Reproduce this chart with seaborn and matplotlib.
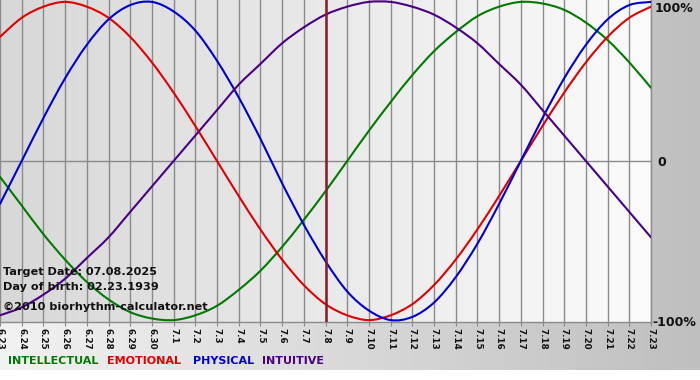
import numpy as np
import pandas as pd
import matplotlib
matplotlib.use("Agg")
import matplotlib.pyplot as plt
import seaborn as sns
from matplotlib.colors import LinearSegmentedColormap
from matplotlib.path import Path
from matplotlib.patches import PathPatch

# ---- data ----
dates = ["6.23", "6.24", "6.25", "6.26", "6.27", "6.28", "6.29", "6.30",
         "7.1", "7.2", "7.3", "7.4", "7.5", "7.6", "7.7", "7.8", "7.9", "7.10",
         "7.11", "7.12", "7.13", "7.14", "7.15", "7.16", "7.17", "7.18", "7.19",
         "7.20", "7.21", "7.22", "7.23"]
physical = [-0.27, 0.00, 0.27, 0.52, 0.73, 0.89, 0.98, 1.00, 0.94, 0.82, 0.63,
            0.40, 0.14, -0.14, -0.40, -0.63, -0.82, -0.94, -1.00, -0.98, -0.89,
            -0.73, -0.52, -0.27, 0.00, 0.27, 0.52, 0.73, 0.89, 0.98, 1.00]
emotional = [0.78, 0.90, 0.97, 1.00, 0.97, 0.90, 0.78, 0.62, 0.43, 0.22, 0.00,
             -0.22, -0.43, -0.62, -0.78, -0.90, -0.97, -1.00, -0.97, -0.90, -0.78,
             -0.62, -0.43, -0.22, 0.00, 0.22, 0.43, 0.62, 0.78, 0.90, 0.97]
intellectual = [-0.10, -0.28, -0.46, -0.62, -0.76, -0.87, -0.95, -0.99, -1.00,
                -0.97, -0.91, -0.81, -0.69, -0.54, -0.37, -0.19, 0.00, 0.19, 0.37,
                0.54, 0.69, 0.81, 0.91, 0.97, 1.00, 0.99, 0.95, 0.87, 0.76, 0.62, 0.46]
intuitive = [-0.97, -0.92, -0.84, -0.74, -0.61, -0.48, -0.32, -0.16, 0.00, 0.16,
             0.32, 0.48, 0.61, 0.74, 0.84, 0.92, 0.97, 1.00, 1.00, 0.97, 0.92,
             0.84, 0.74, 0.61, 0.48, 0.32, 0.16, 0.00, -0.16, -0.32, -0.48]
series_names = ["INTELLECTUAL", "EMOTIONAL", "PHYSICAL", "INTUITIVE"]
series_colors = ["#007a00", "#e00000", "#0000d0", "#4b0082"]
target_label = "7.8"

day_idx = list(range(len(dates)))
df = pd.concat([
    pd.DataFrame({"day": day_idx, "value": intellectual, "cycle": "INTELLECTUAL"}),
    pd.DataFrame({"day": day_idx, "value": emotional, "cycle": "EMOTIONAL"}),
    pd.DataFrame({"day": day_idx, "value": physical, "cycle": "PHYSICAL"}),
    pd.DataFrame({"day": day_idx, "value": intuitive, "cycle": "INTUITIVE"}),
])

W, H = 700, 380
fig = plt.figure(figsize=(W / 100, H / 100), dpi=100)

# figure background gradient
bg = fig.add_axes([0, 0, 1, 1], zorder=-10)
bg.set_axis_off()
cmap_bg = LinearSegmentedColormap.from_list("bg", ["#f2f2f2", "#bfbfbf"])
bg.imshow(np.linspace(0, 1, 256)[None, :], cmap=cmap_bg, aspect="auto",
          extent=[0, 1, 0, 1])
bg.axhspan(0, 10 / H, color="white", lw=0)
bg.set_xlim(0, 1)
bg.set_ylim(0, 1)

plot_w = 651
plot_h = 322
ax = fig.add_axes([0, 1 - plot_h / H, plot_w / W, plot_h / H])

# plot area gradient
cmap_pa = LinearSegmentedColormap.from_list("pa", ["#d8d8d8", "#fbfbfb"])
ax.imshow(np.linspace(0, 1, 256)[None, :], cmap=cmap_pa, aspect="auto",
          extent=[0, len(dates) - 1, -1.012, 1.012], zorder=0)

sns.lineplot(data=df, x="day", y="value", hue="cycle",
             palette=dict(zip(series_names, series_colors)),
             hue_order=series_names, linewidth=1.5, legend=False, ax=ax,
             zorder=3)

# render seaborn's lines as smooth (Catmull-Rom) curves through the same points
for line in list(ax.lines):
    P = np.asarray(line.get_xydata(), dtype=float)
    if len(P) < 3:
        continue
    verts = [tuple(P[0])]
    codes = [Path.MOVETO]
    n = len(P)
    for i in range(n - 1):
        p0 = P[i - 1] if i > 0 else P[i]
        p1 = P[i]
        p2 = P[i + 1]
        p3 = P[i + 2] if i + 2 < n else P[i + 1]
        c1 = p1 + (p2 - p0) / 6.0
        c2 = p2 - (p3 - p1) / 6.0
        verts += [tuple(c1), tuple(c2), tuple(p2)]
        codes += [Path.CURVE4] * 3
    patch = PathPatch(Path(verts, codes), fill=False, edgecolor=line.get_color(),
                      linewidth=line.get_linewidth(), zorder=3,
                      capstyle="round", joinstyle="round")
    ax.add_patch(patch)
    line.set_visible(False)

# grid
for i in day_idx:
    ax.axvline(i, color="#8a8a8a", lw=1.0, zorder=1)
ax.axhline(0, color="#8a8a8a", lw=1.0, zorder=1)
ax.axvline(dates.index(target_label), color="#861c28", lw=1.8, zorder=4)

ax.set_xlim(0, len(dates) - 1)
ax.set_ylim(-1.012, 1.012)
ax.set_xticks(day_idx)
ax.set_xticklabels(dates, rotation=-90, fontsize=6.3, fontweight="bold",
                   color="#111111")
ax.tick_params(axis="x", length=3, color="#8a8a8a", pad=1)
ax.set_yticks([])
ax.set_xlabel("")
ax.set_ylabel("")
for s in ["top", "left"]:
    ax.spines[s].set_visible(False)
for s in ["right", "bottom"]:
    ax.spines[s].set_color("#8a8a8a")
    ax.spines[s].set_linewidth(1.0)

# right axis labels
def fy(py):
    return 1 - py / H

fig.text(655 / W, fy(8), "100%", fontsize=9, fontweight="bold", va="center",
         ha="left", color="#111111")
fig.text(657 / W, fy(162), "0", fontsize=9, fontweight="bold", va="center",
         ha="left", color="#111111")
fig.text(652 / W, fy(322), "-100%", fontsize=9, fontweight="bold", va="center",
         ha="left", color="#111111")

# info text
info = ["Target Date: 07.08.2025", "Day of birth: 02.23.1939",
        "\u00a92010 biorhythm-calculator.net"]
for txt, py in zip(info, [272, 287, 307]):
    fig.text(3 / W, fy(py), txt, fontsize=8.1, fontweight="bold",
             va="center", ha="left", color="#111111", zorder=10)

# legend
for name, col, px in zip(series_names, series_colors, [8, 107, 193, 262]):
    fig.text(px / W, fy(361), name, fontsize=8.0, fontweight="bold",
             color=col, va="center", ha="left")

fig.savefig("out.png", dpi=100)
